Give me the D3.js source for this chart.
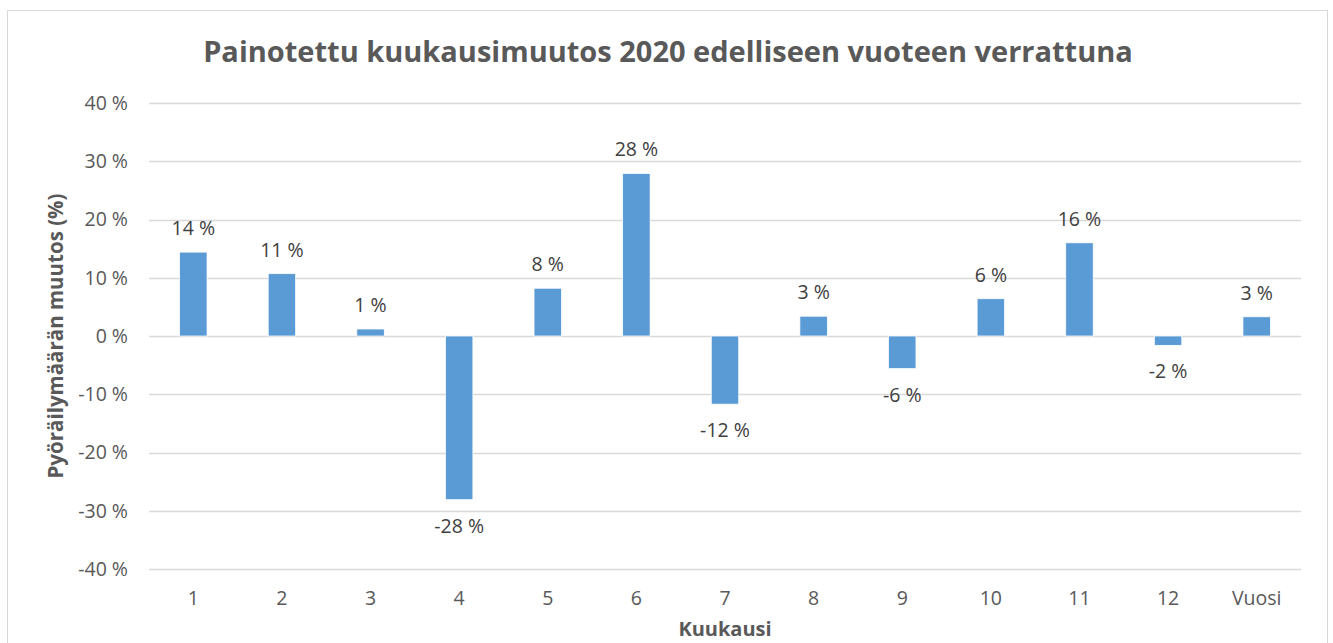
<!DOCTYPE html>
<html>
<head>
<meta charset="utf-8">
<script src="https://cdn.jsdelivr.net/npm/d3@7"></script>
<style>
  body { margin: 0; background: #fff; }
  text { font-family: "Open Sans", "Noto Sans", sans-serif; }
</style>
</head>
<body>
<div id="chart"></div>
<script>
var months = ["1", "2", "3", "4", "5", "6", "7", "8", "9", "10", "11", "12", "Vuosi"]
var changes = [14.4, 10.7, 1.2, -28.1, 8.2, 27.9, -11.7, 3.4, -5.6, 6.4, 16.0, -1.6, 3.3]
var yTicks = [-40, -30, -20, -10, 0, 10, 20, 30, 40]

var W = 1333, H = 643
var margin = { top: 103, right: 32, bottom: 74, left: 149 }
var width = W - margin.left - margin.right
var height = H - margin.top - margin.bottom

var svg = d3.select("#chart").append("svg")
    .attr("width", W)
    .attr("height", H)

// chart frame
svg.append("rect")
    .attr("x", 7.5).attr("y", 10.5)
    .attr("width", 1320).attr("height", 660)
    .attr("fill", "#fff")
    .attr("stroke", "#d9d9d9")

var g = svg.append("g")
    .attr("transform", "translate(" + margin.left + "," + margin.top + ")")

var x = d3.scaleBand().domain(months).range([0, width]).paddingInner(0.69).paddingOuter(0.345)
var y = d3.scaleLinear().domain([-40, 40]).range([height, 0])

// gridlines
g.selectAll(".grid")
    .data(yTicks)
    .enter().append("line")
    .attr("x1", 0).attr("x2", width)
    .attr("y1", function(d) { return Math.round(y(d)) + 0.5 })
    .attr("y2", function(d) { return Math.round(y(d)) + 0.5 })
    .attr("stroke", "#d9d9d9")
    .attr("stroke-width", 1.5)

// y axis labels
var yAxis = g.append("g")
    .call(d3.axisLeft(y).tickValues(yTicks).tickSize(0).tickPadding(21)
        .tickFormat(function(d) { return d + " %" }))
yAxis.select(".domain").remove()
yAxis.selectAll("text").attr("fill", "#595959").style("font-size", "19.5px")

// x axis labels
var xAxis = g.append("g")
    .attr("transform", "translate(0," + height + ")")
    .call(d3.axisBottom(x).tickSize(0).tickPadding(22))
xAxis.select(".domain").remove()
xAxis.selectAll("text").attr("fill", "#595959").style("font-size", "19.5px")

// bars
g.selectAll(".bar")
    .data(changes)
    .enter().append("rect")
    .attr("class", "bar")
    .attr("x", function(d, i) { return x(months[i]) })
    .attr("width", x.bandwidth())
    .attr("y", function(d) { return d >= 0 ? y(d) : y(0) })
    .attr("height", function(d) { return Math.abs(y(d) - y(0)) })
    .attr("fill", "#5b9bd5")
    .attr("stroke", "#fff")
    .attr("stroke-width", 0.75)

// data labels
g.selectAll(".label")
    .data(changes)
    .enter().append("text")
    .attr("class", "label")
    .attr("x", function(d, i) { return x(months[i]) + x.bandwidth() / 2 })
    .attr("y", function(d) { return d >= 0 ? y(d) - 17 : y(d) + 33 })
    .attr("text-anchor", "middle")
    .attr("fill", "#404040")
    .style("font-size", "19.5px")
    .text(function(d) { return Math.round(d) + " %" })

// title
svg.append("text")
    .attr("x", 668).attr("y", 62)
    .attr("text-anchor", "middle")
    .attr("fill", "#595959")
    .style("font-size", "29px")
    .style("font-weight", "bold")
    .text("Painotettu kuukausimuutos 2020 edelliseen vuoteen verrattuna")

// axis titles
svg.append("text")
    .attr("transform", "translate(63," + (margin.top + y(0)) + ") rotate(-90)")
    .attr("text-anchor", "middle")
    .attr("fill", "#595959")
    .style("font-size", "20.5px")
    .style("font-weight", "bold")
    .text("Pyöräilymäärän muutos (%)")

svg.append("text")
    .attr("x", margin.left + width / 2).attr("y", 636)
    .attr("text-anchor", "middle")
    .attr("fill", "#595959")
    .style("font-size", "20px")
    .style("font-weight", "bold")
    .text("Kuukausi")
</script>
</body>
</html>
